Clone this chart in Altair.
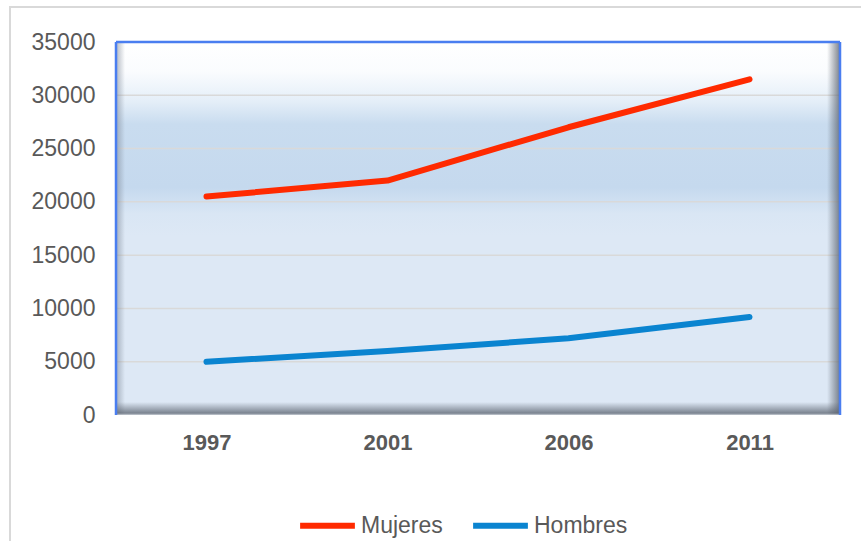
import altair as alt
import pandas as pd

years = ["1997", "2001", "2006", "2011"]
mujeres = [20500, 22000, 27000, 31500]
hombres = [5000, 6000, 7200, 9200]
series_names = ["Mujeres", "Hombres"]
series_colors = ["#FF2A00", "#0A84D0"]
y_ticks = [0, 5000, 10000, 15000, 20000, 25000, 30000, 35000]

W, H = 724, 373
TEXT = "#595959"
FONT = "Liberation Sans"

rows = []
for y, m, h in zip(years, mujeres, hombres):
    rows.append({"year": y, "serie": "Mujeres", "valor": m})
    rows.append({"year": y, "serie": "Hombres", "valor": h})
df = pd.DataFrame(rows)
grid_df = pd.DataFrame({"v": [t for t in y_ticks if 0 < t < 35000]})
one = pd.DataFrame({"a": [0]})


def grad(stops, x2=0, y2=1):
    return alt.Gradient(
        gradient="linear",
        stops=[alt.GradientStop(color=c, offset=o) for o, c in stops],
        x1=0, y1=0, x2=x2, y2=y2,
    )


def box(fill, x, x2, y, y2):
    return alt.Chart(one).mark_rect(fill=fill, strokeWidth=0).encode(
        x=alt.value(x), x2=alt.value(x2), y=alt.value(y), y2=alt.value(y2)
    )


# outer light gray frame
frame = alt.Chart(one).mark_rect(
    fill="transparent", stroke="#D9D9D9", strokeWidth=2
).encode(x=alt.value(-106), x2=alt.value(760), y=alt.value(-35), y2=alt.value(520))

background = box(
    grad([
        (0.0, "#FFFFFF"),
        (0.08, "#FAFCFE"),
        (0.16, "#E4EEF8"),
        (0.22, "#C9DCEF"),
        (0.39, "#C5D9EE"),
        (0.46, "#D9E6F4"),
        (0.52, "#DDE8F5"),
        (1.0, "#DDE8F5"),
    ]),
    0, W, 0, H,
)

gridlines = alt.Chart(grid_df).mark_rule(color="#D9D9D9", strokeWidth=1.5).encode(
    y=alt.Y("v:Q"), x=alt.value(0), x2=alt.value(W)
)

left_bevel = box(grad([(0, "rgba(120,130,145,0.55)"), (1, "rgba(120,130,145,0)")], x2=1, y2=0), 0, 9, 0, H)
right_bevel = box(grad([(0, "rgba(90,98,110,0)"), (1, "rgba(90,98,110,0.8)")], x2=1, y2=0), W - 13, W, 0, H)
bottom_bevel = box(grad([(0, "rgba(90,98,110,0)"), (0.85, "rgba(90,98,110,0.75)"), (1, "rgba(200,205,212,0.9)")]), 0, W, H - 13, H)

def edge(x, x2, y, y2):
    return alt.Chart(one).mark_rule(color="#4A7EF0", strokeWidth=2.5).encode(
        x=alt.value(x), x2=alt.value(x2), y=alt.value(y), y2=alt.value(y2)
    )

border = edge(0, 0, 0, H) + edge(0, W, 0, 0) + edge(W, W, 0, H)

lines = alt.Chart(df).mark_line(
    strokeWidth=6, strokeCap="round", strokeJoin="round", interpolate="linear"
).encode(
    x=alt.X(
        "year:O",
        scale=alt.Scale(type="point", padding=0.5),
        axis=alt.Axis(
            title=None, domain=False, ticks=False, labelAngle=0,
            labelFont=FONT, labelFontSize=22, labelFontWeight="bold",
            labelColor=TEXT, labelPadding=17,
        ),
    ),
    y=alt.Y(
        "valor:Q",
        scale=alt.Scale(domain=[0, 35000], nice=False),
        axis=alt.Axis(
            title=None, values=y_ticks, format="d", grid=False, domain=False,
            ticks=False, labelFont=FONT, labelFontSize=23, labelColor=TEXT,
            labelPadding=21,
        ),
    ),
    color=alt.Color(
        "serie:N",
        scale=alt.Scale(domain=series_names, range=series_colors),
        legend=alt.Legend(
            title=None, orient="none", direction="horizontal",
            legendX=181, legendY=453,
            symbolType="stroke", symbolStrokeWidth=6, symbolSize=3000,
            labelFont=FONT, labelFontSize=23, labelColor=TEXT,
            labelOffset=3, columnPadding=18,
        ),
    ),
    detail="serie:N",
)

chart = alt.layer(
    frame, background, gridlines, left_bevel, right_bevel, bottom_bevel, border, lines
).properties(
    width=W, height=H,
    autosize=alt.AutoSizeParams(type="none"),
    padding={"left": 116, "top": 42, "right": 21, "bottom": 126},
    background="white",
).configure_view(stroke=None)

chart.save("out.html", embed_options={"renderer": "svg", "actions": False})
